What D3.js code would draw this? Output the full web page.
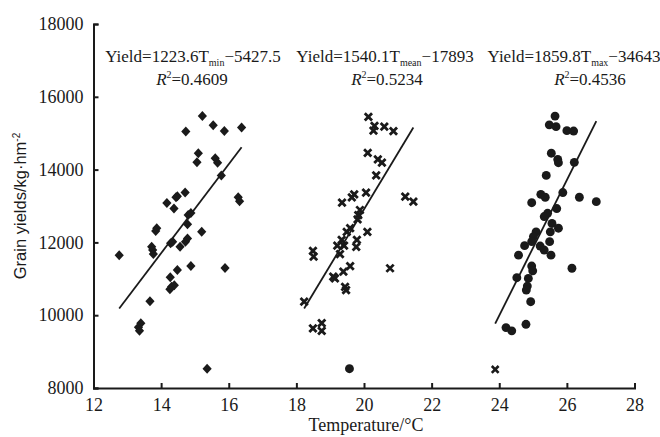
<!DOCTYPE html>
<html>
<head>
<meta charset="utf-8">
<script src="https://cdn.jsdelivr.net/npm/d3@7"></script>
<style>
  body { margin: 0; background: #fff; }
  text { fill: #1a1a1a; }
</style>
</head>
<body>
<div id="chart"></div>
<script>
// Data: [temperature °C, grain yield kg/hm2]
const tminPoints = [
  [15.22,15470],[15.54,15220],[15.87,15060],[16.38,15160],[14.73,15050],[15.10,14450],
  [15.06,14200],[15.60,14310],[15.67,14190],[15.78,13840],[16.28,13240],[16.32,13130],
  [14.71,13370],[14.48,13270],[14.44,13240],[14.17,13080],[14.38,12930],[14.80,12750],
  [14.88,12810],[14.78,12500],[13.87,12390],[13.84,12310],[15.20,12290],[14.28,11980],
  [14.34,12020],[14.56,11880],[14.72,12020],[14.78,12110],[13.72,11880],[13.75,11790],
  [13.77,11680],[12.76,11650],[14.88,11350],[15.89,11300],[14.48,11240],[14.27,11040],
  [14.31,10780],[14.39,10820],[14.26,10710],[13.67,10380],[13.40,9780],[13.33,9670],
  [13.36,9570],[15.36,8530]
];
const tmeanPoints = [
  [20.13,15450],[20.31,15200],[20.28,15070],[20.60,15180],[20.87,15060],[20.11,14460],
  [20.41,14280],[20.53,14190],[20.36,13840],[21.22,13260],[21.46,13120],[20.06,13370],
  [19.71,13320],[19.64,13240],[19.35,13090],[19.88,12890],[19.83,12750],[19.81,12630],
  [19.59,12390],[20.10,12290],[19.49,12290],[19.34,12070],[19.21,11910],[19.41,11910],
  [19.79,12070],[19.77,11880],[19.29,11680],[18.49,11770],[18.51,11610],[20.77,11290],
  [19.59,11350],[19.39,11200],[19.09,11060],[19.14,11010],[19.44,10780],[19.47,10690],
  [18.23,10370],[18.49,9640],[18.75,9780],[18.75,9570],[19.57,8530]
];
const tmaxPoints = [
  [25.65,15470],[25.48,15230],[25.68,15180],[26.00,15070],[26.20,15060],[25.54,14450],
  [25.73,14280],[25.75,14190],[26.22,14200],[25.39,13840],[25.88,13370],[25.23,13320],
  [25.36,13240],[24.96,13090],[26.37,13240],[26.87,13120],[25.70,12930],[25.43,12800],
  [25.33,12710],[25.56,12520],[25.75,12390],[25.51,12290],[25.09,12290],[25.01,12160],
  [24.96,12020],[25.49,12020],[24.75,11910],[25.21,11900],[25.33,11790],[25.53,11650],
  [24.57,11650],[26.15,11290],[24.96,11350],[24.99,11220],[24.52,11030],[24.86,11010],
  [24.83,10800],[24.80,10690],[24.93,10370],[24.79,9750],[24.20,9660],[24.37,9570],
  [23.88,8510]
];

// Regression fits printed on the chart: slope, intercept, R2
const slopes = [1223.6, 1540.1, 1859.8];
const intercepts = [-5427.5, -17893, -34643];
const r2Values = ["0.4609", "0.5234", "0.4536"];
const subscripts = ["min", "mean", "max"];

const xTicks = [12, 14, 16, 18, 20, 22, 24, 26, 28];
const yTicks = [8000, 10000, 12000, 14000, 16000, 18000];

//----------------------------------
// SVG
//----------------------------------
const W = 660, H = 437;
const svg = d3.select("#chart").append("svg")
    .attr("width", W)
    .attr("height", H);

const xScale = d3.scaleLinear().domain([12, 28]).range([93.5, 634.5]);
const yScale = d3.scaleLinear().domain([8000, 18000]).range([388, 24]);

const ink = "#1a1a1a";
const serif = "'Liberation Serif', 'Times New Roman', serif";

// Axes, ticks point inward
const xAxis = svg.append("g")
    .attr("transform", `translate(0,${yScale(8000)})`)
    .call(d3.axisBottom(xScale).tickValues(xTicks).tickFormat(d3.format("d"))
      .tickSize(-5).tickPadding(10));
const yAxis = svg.append("g")
    .attr("transform", `translate(${xScale(12)},0)`)
    .call(d3.axisLeft(yScale).tickValues(yTicks).tickFormat(d3.format("d"))
      .tickSize(-5).tickPadding(10));

[xAxis, yAxis].forEach(ax => {
  ax.attr("font-family", serif).attr("font-size", 18);
  ax.select(".domain").attr("stroke", ink).attr("stroke-width", 2);
  ax.selectAll(".tick line").attr("stroke", ink).attr("stroke-width", 2);
  ax.selectAll(".tick text").attr("fill", ink)
    .style("font-family", serif).style("font-size", "18px");
});

// Axis titles
svg.append("text")
    .attr("x", 366)
    .attr("y", 431)
    .attr("text-anchor", "middle")
    .style("font-family", serif)
    .style("font-size", "18px")
    .text("Temperature/°C");

const yTitle = svg.append("text")
    .attr("transform", "translate(26,206) rotate(-90)")
    .attr("text-anchor", "middle")
    .style("font-family", "'Liberation Sans', Arial, sans-serif")
    .style("font-size", "16.5px");
yTitle.append("tspan").text("Grain yields/kg·hm");
yTitle.append("tspan").attr("dy", -6).style("font-size", "10px").text("-2");

// Regression lines across each series' temperature range
const series = [tminPoints, tmeanPoints, tmaxPoints];
const line = d3.line().x(d => xScale(d[0])).y(d => yScale(d[1]));

series.forEach((pts, i) => {
  const ext = d3.extent(pts, d => d[0]);
  const seg = ext.map(t => [t, slopes[i] * t + intercepts[i]]);
  svg.append("path")
      .datum(seg)
      .attr("fill", "none")
      .attr("stroke", ink)
      .attr("stroke-width", 1.8)
      .attr("d", line);
});

// Markers: diamond for Tmin, cross for Tmean, dot for Tmax
// (the lowest outlier of Tmean and Tmax appear with each other's symbol)
const diamond = d3.symbol().type(d3.symbolSquare).size(50)();
const cross = d3.symbol().type(d3.symbolTimes).size(36)();
const smallCross = d3.symbol().type(d3.symbolTimes).size(32)();
const dot = d3.symbol().type(d3.symbolCircle).size(62)();

function drawMarks(pts, shape, lastShape) {
  pts.forEach((d, k) => {
    const s = (k === pts.length - 1 && lastShape) ? lastShape : shape;
    const pos = `translate(${xScale(d[0])},${yScale(d[1])})`;
    const p = svg.append("path").attr("transform", pos);
    if (s === "diamond") {
      p.attr("d", diamond).attr("fill", ink)
        .attr("transform", pos + " scale(0.92,1) rotate(45)");
    } else if (s === "cross") {
      p.attr("d", cross).attr("fill", "none").attr("stroke", ink).attr("stroke-width", 2.8);
    } else if (s === "smallCross") {
      p.attr("d", smallCross).attr("fill", "none").attr("stroke", ink).attr("stroke-width", 2.6);
    } else {
      p.attr("d", dot).attr("fill", ink);
    }
  });
}
drawMarks(tminPoints, "diamond");
drawMarks(tmeanPoints, "cross", "dot");
drawMarks(tmaxPoints, "dot", "smallCross");

// Equation labels
const eqCenters = [193, 385, 574];
const r2Centers = [192, 387, 590];

series.forEach((pts, i) => {
  const eq = svg.append("text")
      .attr("x", eqCenters[i])
      .attr("y", 62)
      .attr("text-anchor", "middle")
      .style("font-family", serif)
      .style("font-size", "17px");
  eq.append("tspan").text(`Yield=${slopes[i]}T`);
  eq.append("tspan").attr("dy", 4).style("font-size", "10px").text(subscripts[i]);
  eq.append("tspan").attr("dy", -4).text(`\u2212${Math.abs(intercepts[i])}`);

  const r = svg.append("text")
      .attr("x", r2Centers[i])
      .attr("y", 85)
      .attr("text-anchor", "middle")
      .style("font-family", serif)
      .style("font-size", "17px");
  r.append("tspan").style("font-style", "italic").text("R");
  r.append("tspan").attr("dy", -7).style("font-size", "10px").text("2");
  r.append("tspan").attr("dy", 7).text(`=${r2Values[i]}`);
});
</script>
</body>
</html>
